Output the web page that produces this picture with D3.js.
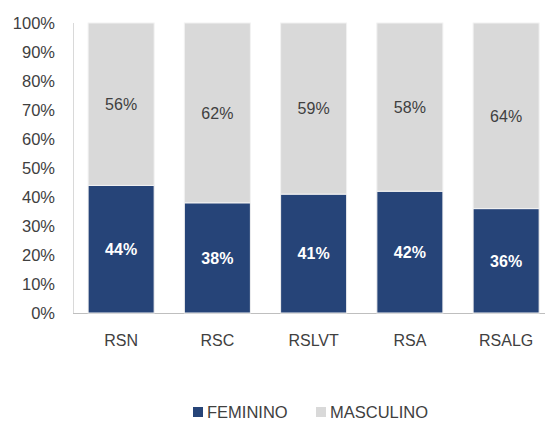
<!DOCTYPE html>
<html>
<head>
<meta charset="utf-8">
<script src="https://cdn.jsdelivr.net/npm/d3@7"></script>
<style>
body { margin: 0; background: #fff; }
svg { display: block; font-family: "Liberation Sans", Arial, sans-serif; }
</style>
</head>
<body>
<svg id="main"></svg>
<script>
var width = 545, height = 423;

// data
var categories = ['RSN', 'RSC', 'RSLVT', 'RSA', 'RSALG'];
var feminino = [44, 38, 41, 42, 36];
var masculino = [56, 62, 59, 58, 64];
var yTicks = [0, 10, 20, 30, 40, 50, 60, 70, 80, 90, 100];
var seriesNames = ['FEMININO', 'MASCULINO'];
var colors = ['#264478', '#d9d9d9'];

var svg = d3.select('#main').attr('width', width).attr('height', height);

var x = d3.scaleBand()
	.domain(categories)
	.range([73, 554.25])
	.paddingInner(0.314)
	.paddingOuter(0.157);
var y = d3.scaleLinear().domain([0, 100]).range([313, 23]);

// axis lines
svg.append('line')
	.attr('x1', 73.5).attr('x2', 73.5)
	.attr('y1', y(100)).attr('y2', y(0))
	.attr('stroke', '#d9d9d9');
svg.append('line')
	.attr('x1', 73).attr('x2', width)
	.attr('y1', y(0) + 0.5).attr('y2', y(0) + 0.5)
	.attr('stroke', '#bfbfbf');

// y tick labels
svg.append('g').selectAll('text')
	.data(yTicks)
	.join('text')
	.attr('x', 55)
	.attr('y', d => y(d))
	.attr('dy', '0.36em')
	.attr('text-anchor', 'end')
	.attr('font-size', 16.5)
	.attr('fill', '#404040')
	.text(d => d + '%');

var stackData = categories.map((c, i) => ({cat: c, FEMININO: feminino[i], MASCULINO: masculino[i]}));
var stacked = d3.stack().keys(seriesNames)(stackData);

var groups = svg.append('g').selectAll('g')
	.data(stacked)
	.join('g')
	.attr('fill', (d, i) => colors[i]);

groups.selectAll('rect')
	.data(d => d)
	.join('rect')
	.attr('x', d => x(d.data.cat))
	.attr('y', d => y(d[1]))
	.attr('width', x.bandwidth())
	.attr('height', d => y(d[0]) - y(d[1]))
	.attr('stroke', '#f2f2f2')
	.attr('stroke-width', 1);

// data labels
groups.each(function(s, i) {
	d3.select(this).selectAll('text')
		.data(s)
		.join('text')
		.attr('x', d => x(d.data.cat) + x.bandwidth() / 2)
		.attr('y', d => (y(d[0]) + y(d[1])) / 2)
		.attr('dy', '0.36em')
		.attr('text-anchor', 'middle')
		.attr('font-size', 16)
		.attr('font-weight', i === 0 ? 'bold' : 'normal')
		.attr('fill', i === 0 ? '#ffffff' : '#404040')
		.text(d => (d[1] - d[0]) + '%');
});

// category labels
svg.append('g').selectAll('text')
	.data(categories)
	.join('text')
	.attr('x', d => x(d) + x.bandwidth() / 2)
	.attr('y', 340)
	.attr('dy', '0.36em')
	.attr('text-anchor', 'middle')
	.attr('font-size', 16)
	.attr('fill', '#404040')
	.text(d => d);

// legend
var legendX = [193, 316];
var legend = svg.append('g').selectAll('g')
	.data(seriesNames)
	.join('g')
	.attr('transform', (d, i) => `translate(${legendX[i]},412)`);
legend.append('rect')
	.attr('x', 0).attr('y', -5)
	.attr('width', 10).attr('height', 10)
	.attr('fill', (d, i) => colors[i]);
legend.append('text')
	.attr('x', 14)
	.attr('y', 0)
	.attr('dy', '0.36em')
	.attr('font-size', 16.5)
	.attr('fill', '#404040')
	.text(d => d);
</script>
</body>
</html>
